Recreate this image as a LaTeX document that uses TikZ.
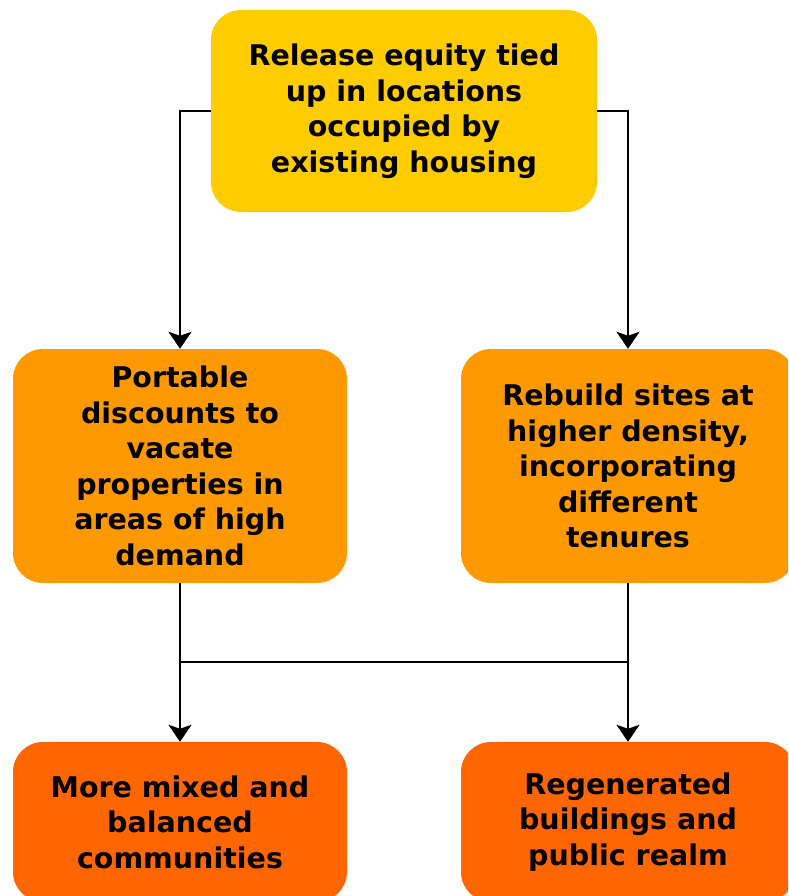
\documentclass[tikz,border=0pt]{standalone}
\usepackage{fontspec}
\setmainfont{DejaVu Sans}
\usetikzlibrary{arrows.meta}
\definecolor{cyellow}{HTML}{FFCC00}
\definecolor{corange}{HTML}{FF9900}
\definecolor{cdark}{HTML}{FF6600}
\begin{document}
\begin{tikzpicture}[x=1pt,y=-1pt,
  box/.style={rounded corners=30pt, inner sep=0pt, align=center,
    font=\fontsize{28.5}{35.5}\selectfont\bfseries, text=black},
  conn/.style={line width=2.6pt, draw=black},
  arr/.style={conn, -{Stealth[length=17pt,width=23pt,inset=4pt]}}]
\clip (0,0) rectangle (788,896);
\fill[white] (0,0) rectangle (788,896);
\node[box, fill=cyellow, minimum width=386pt, minimum height=202pt] (top) at (404,111)
  {Release equity tied\\up in locations\\occupied by\\existing housing};
\node[box, fill=corange, minimum width=334pt, minimum height=234pt] (ml) at (180,466)
  {Portable\\discounts to\\vacate\\properties in\\areas of high\\demand};
\node[box, fill=corange, minimum width=334pt, minimum height=234pt] (mr) at (628,466)
  {Rebuild sites at\\higher density,\\incorporating\\different\\tenures};
\node[box, fill=cdark, minimum width=334pt, minimum height=160pt] (bl) at (180,822)
  {More mixed and\\balanced\\communities};
\node[box, fill=cdark, minimum width=334pt, minimum height=160pt] (br) at (628,822)
  {Regenerated\\buildings and\\public realm};
\coordinate (jl) at (180,662);
\coordinate (jr) at (628,662);
\draw[arr] (top.west) -| (ml.north);
\draw[arr] (top.east) -| (mr.north);
\draw[conn] (ml.south) -- (jl) -- (jr);
\draw[conn] (mr.south) -- (jr);
\draw[arr] (jl) -- (bl.north);
\draw[arr] (jr) -- (br.north);
\end{tikzpicture}
\end{document}
